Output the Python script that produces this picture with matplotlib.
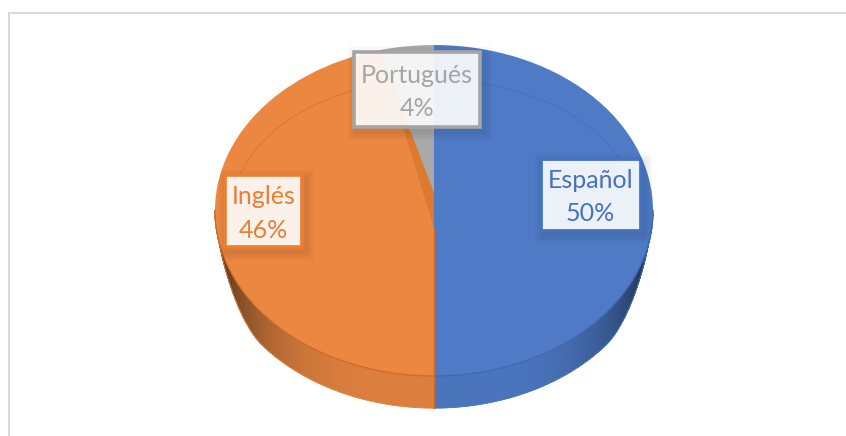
import numpy as np
import matplotlib
matplotlib.use('Agg')
import matplotlib.pyplot as plt
from matplotlib.colors import LinearSegmentedColormap
from matplotlib.patches import Rectangle, Polygon

plt.rcParams['font.family'] = ['Lato', 'DejaVu Sans']

categories = ["Español", "Inglés", "Portugués"]
values = [50, 46, 4]
top_colors = ["#4F7BC6", "#EC8741", "#A9A9A9"]
line_colors = ["#3F69B5", "#D06A22", "#8F8F8F"]
text_colors = ["#4472C4", "#ED7D31", "#A5A5A5"]
side_light = ["#4A75BD", "#DC7F3E", "#8F8F8F"]
side_dark = ["#1D2C4C", "#4E3018", "#707070"]

# pie geometry in pixels of the 846x436 picture
CX, CY = 434, 210.5
RX, RY = 219, 165.5
DEPTH = 32

def px(x, y):
    return (x - CX) / RX, (CY - y) / RY

def wall(angle):
    # the wall gets thinner near the two ends of the front half
    c = np.abs(np.cos(angle))
    s = np.clip((0.98 - c) / 0.2, 0, 1)
    return DEPTH / RY * (1 - (1 - s) ** 2)

fig = plt.figure(figsize=(8.46, 4.36), dpi=100)
ax = fig.add_axes([0, 0, 1, 1])

# top face, stretched to an ellipse afterwards
wedges, _ = ax.pie(values, colors=top_colors, startangle=90, counterclock=False,
                   radius=1, wedgeprops={'linewidth': 0})
for w in wedges:
    w.set_zorder(5)
ax.set_aspect('auto')
ax.set_xlim(px(0, 0)[0], px(846, 0)[0])
ax.set_ylim(px(0, 436)[1], px(0, 0)[1])

# side wall, shaded towards both ends of the visible half
edges = 90 - np.cumsum([0] + values) * 3.6
for i in range(len(values)):
    # angles are taken in -180..0, which is the front half
    a1 = min(edges[i], 0)
    a2 = max(edges[i + 1], -180)
    if a1 <= a2:
        continue
    t = np.radians(np.linspace(a1, a2, 200))
    xs = np.vstack([np.cos(t), np.cos(t)])
    ys = np.vstack([np.sin(t), np.sin(t) - wall(t)])
    shade = np.abs(np.cos(t)) ** 4
    cmap = LinearSegmentedColormap.from_list("side", [side_light[i], side_dark[i]])
    ax.pcolormesh(xs, ys, np.vstack([shade, shade]), cmap=cmap, vmin=0, vmax=1,
                  shading='gouraud', zorder=3)
    # soft outer edge of the wall
    ax.plot(np.cos(t), np.sin(t) - wall(t), color=top_colors[i], lw=0.6, alpha=0.8, zorder=4)
    # darker rim where the top face meets the wall
    ax.plot(np.cos(t), np.sin(t), color=line_colors[i], lw=0.9, zorder=6)

# inner wall of the orange slice seen next to the grey one
rim = np.radians(edges[2])
stripe = [(0, 18 / RY), (np.cos(rim), np.sin(rim)), (0, -18 / RY)]
ax.add_patch(Polygon(stripe, closed=True, fc="#DC7A30", ec='none', zorder=6))
ax.plot([0, 0], [-1, -18 / RY], color=line_colors[1], lw=1.0, zorder=7)
ax.plot([0, 0], [-1, -1 - DEPTH / RY], color=line_colors[1], lw=1.0, zorder=7)

# faint bevel line on the top face
for i, (a1, a2) in enumerate([(90, 12), (168, 104)]):
    t = np.radians(np.linspace(a1, a2, 80))
    ax.plot(0.92 * np.cos(t), 0.79 * np.sin(t), color=line_colors[i], lw=0.7,
            alpha=0.55, zorder=6)

# data labels
boxes = [(541, 159, 640, 230), (225, 175, 302, 247), (354, 52, 480, 127)]
box_lw = [2.0, 2.6, 2.6]
for i in range(len(categories)):
    x0, y0, x1, y1 = boxes[i]
    u0, v0 = px(x0, y1)
    u1, v1 = px(x1, y0)
    w = u1 - u0
    h = v1 - v0
    for grow in (9, 6, 3):
        gu = grow / RX
        gv = grow / RY
        ax.add_patch(Rectangle((u0 - gu + 3 / RX, v0 - gv - 4 / RY), w + 2 * gu, h + 2 * gv,
                               fc='black', ec='none', alpha=0.03, zorder=8))
    ax.add_patch(Rectangle((u0, v0), w, h, fc='white', alpha=0.9, ec='none', zorder=9))
    ax.add_patch(Rectangle((u0, v0), w, h, fc='none', ec=text_colors[i], lw=box_lw[i], zorder=10))
    tx = (u0 + u1) / 2
    ax.text(tx, px(0, (y0 + y1) / 2 - 14)[1], categories[i], color=text_colors[i],
            fontsize=18, ha='center', va='center', zorder=11)
    ax.text(tx, px(0, (y0 + y1) / 2 + 19)[1], "%d%%" % values[i], color=text_colors[i],
            fontsize=18, ha='center', va='center', zorder=11)

# chart frame, only top and left show
ax.plot([px(9, 0)[0], px(846, 0)[0]], [px(0, 13)[1], px(0, 13)[1]], color="#D9D9D9", lw=1.5, zorder=1)
ax.plot([px(9, 0)[0], px(9, 0)[0]], [px(0, 13)[1], px(0, 436)[1]], color="#D9D9D9", lw=1.5, zorder=1)

fig.savefig("out.png", dpi=100)
